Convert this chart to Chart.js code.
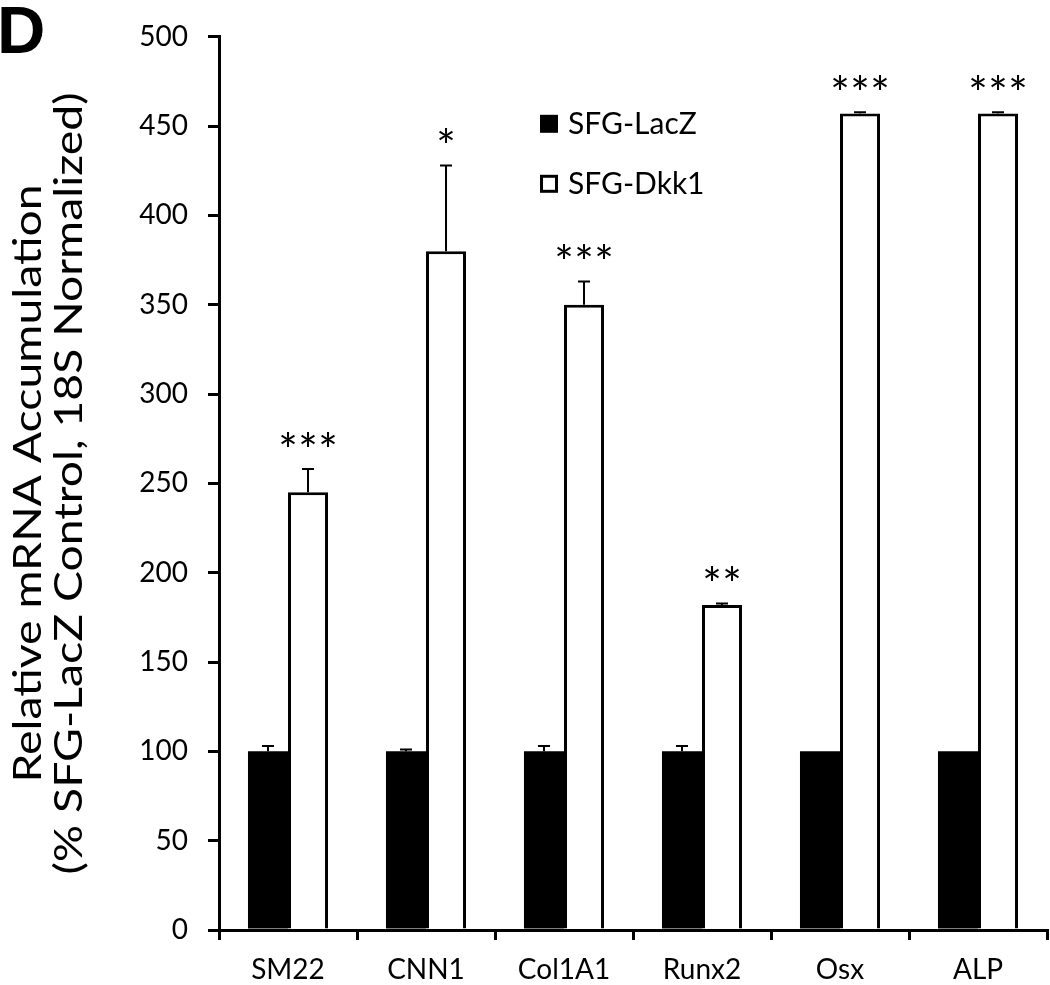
<!DOCTYPE html>
<html>
<head>
<meta charset="utf-8">
<script src="https://cdn.jsdelivr.net/npm/chart.js@4"></script>
<style>
  html, body { margin: 0; padding: 0; background: #fff; }
  #wrap { width: 1050px; height: 985px; }
</style>
</head>
<body>
<div id="wrap"><canvas id="grafico" width="1050" height="985"></canvas></div>
<script>
const genes = ["SM22", "CNN1", "Col1A1", "Runx2", "Osx", "ALP"];
const lacZ = [100, 100, 100, 100, 100, 100];
const lacZErr = [3, 1, 3, 3, 0, 0];
const dkk1 = [245, 380, 350, 182, 457, 457];
const dkk1Err = [13, 48, 13, 0.8, 0.8, 0.8];
const stars = ["***", "*", "***", "**", "***", "***"];
const yTicks = [0, 50, 100, 150, 200, 250, 300, 350, 400, 450, 500];
const yTitle = ["Relative mRNA Accumulation", "(% SFG-LacZ Control, 18S Normalized)"];

const FONT = "Lato, 'Open Sans', sans-serif";

// barras de erro (só para cima) + asteriscos
const extras = {
  id: "extras",
  afterDatasetsDraw(chart) {
    const ctx = chart.ctx;
    const y = chart.scales.y;
    const errs = [lacZErr, dkk1Err];
    ctx.save();
    ctx.strokeStyle = "#000";
    ctx.lineWidth = 2;
    chart.data.datasets.forEach((ds, i) => {
      const meta = chart.getDatasetMeta(i);
      meta.data.forEach((bar, j) => {
        const e = errs[i][j];
        if (!e) return;
        const top = y.getPixelForValue(ds.data[j] + e);
        ctx.beginPath();
        ctx.moveTo(bar.x, bar.y);
        ctx.lineTo(bar.x, top);
        ctx.moveTo(bar.x - 6, top);
        ctx.lineTo(bar.x + 6, top);
        ctx.stroke();
      });
    });
    // asteriscos sobre SFG-Dkk1
    const meta = chart.getDatasetMeta(1);
    ctx.fillStyle = "#000";
    ctx.font = "46px " + FONT;
    ctx.textAlign = "center";
    ctx.textBaseline = "alphabetic";
    const m = ctx.measureText("*");
    const mid = (m.actualBoundingBoxAscent - m.actualBoundingBoxDescent) / 2;
    meta.data.forEach((bar, j) => {
      const top = y.getPixelForValue(dkk1[j] + dkk1Err[j]);
      const n = stars[j].length;
      for (let k = 0; k < n; k++) {
        const cx = bar.x + (k - (n - 1) / 2) * 20;
        ctx.fillText("*", cx, top - 30 + mid);
      }
    });
    ctx.restore();
  },
  afterDraw(chart) {
    const ctx = chart.ctx;
    const area = chart.chartArea;
    ctx.save();
    // letra do painel
    ctx.fillStyle = "#000";
    ctx.font = "bold 67px 'Liberation Sans', Arial, sans-serif";
    ctx.textAlign = "left";
    ctx.textBaseline = "alphabetic";
    ctx.fillText("D", -3, 53);
    // título do eixo y (esticado no comprimento como no original)
    ctx.save();
    ctx.translate(0, (area.top + area.bottom) / 2);
    ctx.rotate(-Math.PI / 2);
    ctx.scale(1.22, 1);
    ctx.font = "38px " + FONT;
    ctx.textAlign = "center";
    ctx.textBaseline = "middle";
    ctx.fillText(yTitle[0], 0, 29);
    ctx.fillText(yTitle[1], 0, 70);
    ctx.restore();
    // legenda
    const lx = area.left + 321;
    const rows = [area.top + 87, area.top + 147];
    ctx.font = "30px " + FONT;
    ctx.textBaseline = "middle";
    chart.data.datasets.forEach((ds, i) => {
      const cy = rows[i];
      if (i === 0) {
        ctx.fillRect(lx, cy - 9, 18, 18);
      } else {
        ctx.lineWidth = 3;
        ctx.strokeRect(lx + 1.5, cy - 7.5, 15, 15);
      }
      ctx.fillText(ds.label, lx + 28, cy + 1);
    });
    ctx.restore();
  }
};

const ctx = document.getElementById("grafico").getContext("2d");
new Chart(ctx, {
  type: "bar",
  data: {
    labels: genes,
    datasets: [
      {
        label: "SFG-LacZ",
        data: lacZ,
        backgroundColor: "#000",
        borderColor: "#000",
        borderWidth: 0
      },
      {
        label: "SFG-Dkk1",
        data: dkk1,
        backgroundColor: "#fff",
        borderColor: "#000",
        borderWidth: 3
      }
    ]
  },
  options: {
    responsive: false,
    animation: false,
    layout: { padding: { top: 27, right: 3, left: 0, bottom: 0 } },
    datasets: { bar: { categoryPercentage: 0.58, barPercentage: 1 } },
    plugins: {
      legend: { display: false },
      tooltip: { enabled: false }
    },
    scales: {
      x: {
        grid: { drawOnChartArea: false, tickLength: 10, color: "#000", lineWidth: 3 },
        border: { color: "#000", width: 3 },
        ticks: { color: "#000", font: { family: FONT, size: 28 }, padding: 13 },
        afterFit(s) { s.height = 55; }
      },
      y: {
        min: 0,
        max: 500,
        afterBuildTicks(s) { s.ticks = yTicks.map(v => ({ value: v })); },
        grid: { drawOnChartArea: false, tickLength: 11, color: "#000", lineWidth: 3 },
        border: { color: "#000", width: 3 },
        ticks: { color: "#000", font: { family: FONT, size: 28 }, padding: 20 },
        afterFit(s) { s.width = 219; }
      }
    }
  },
  plugins: [extras]
});
</script>
</body>
</html>
